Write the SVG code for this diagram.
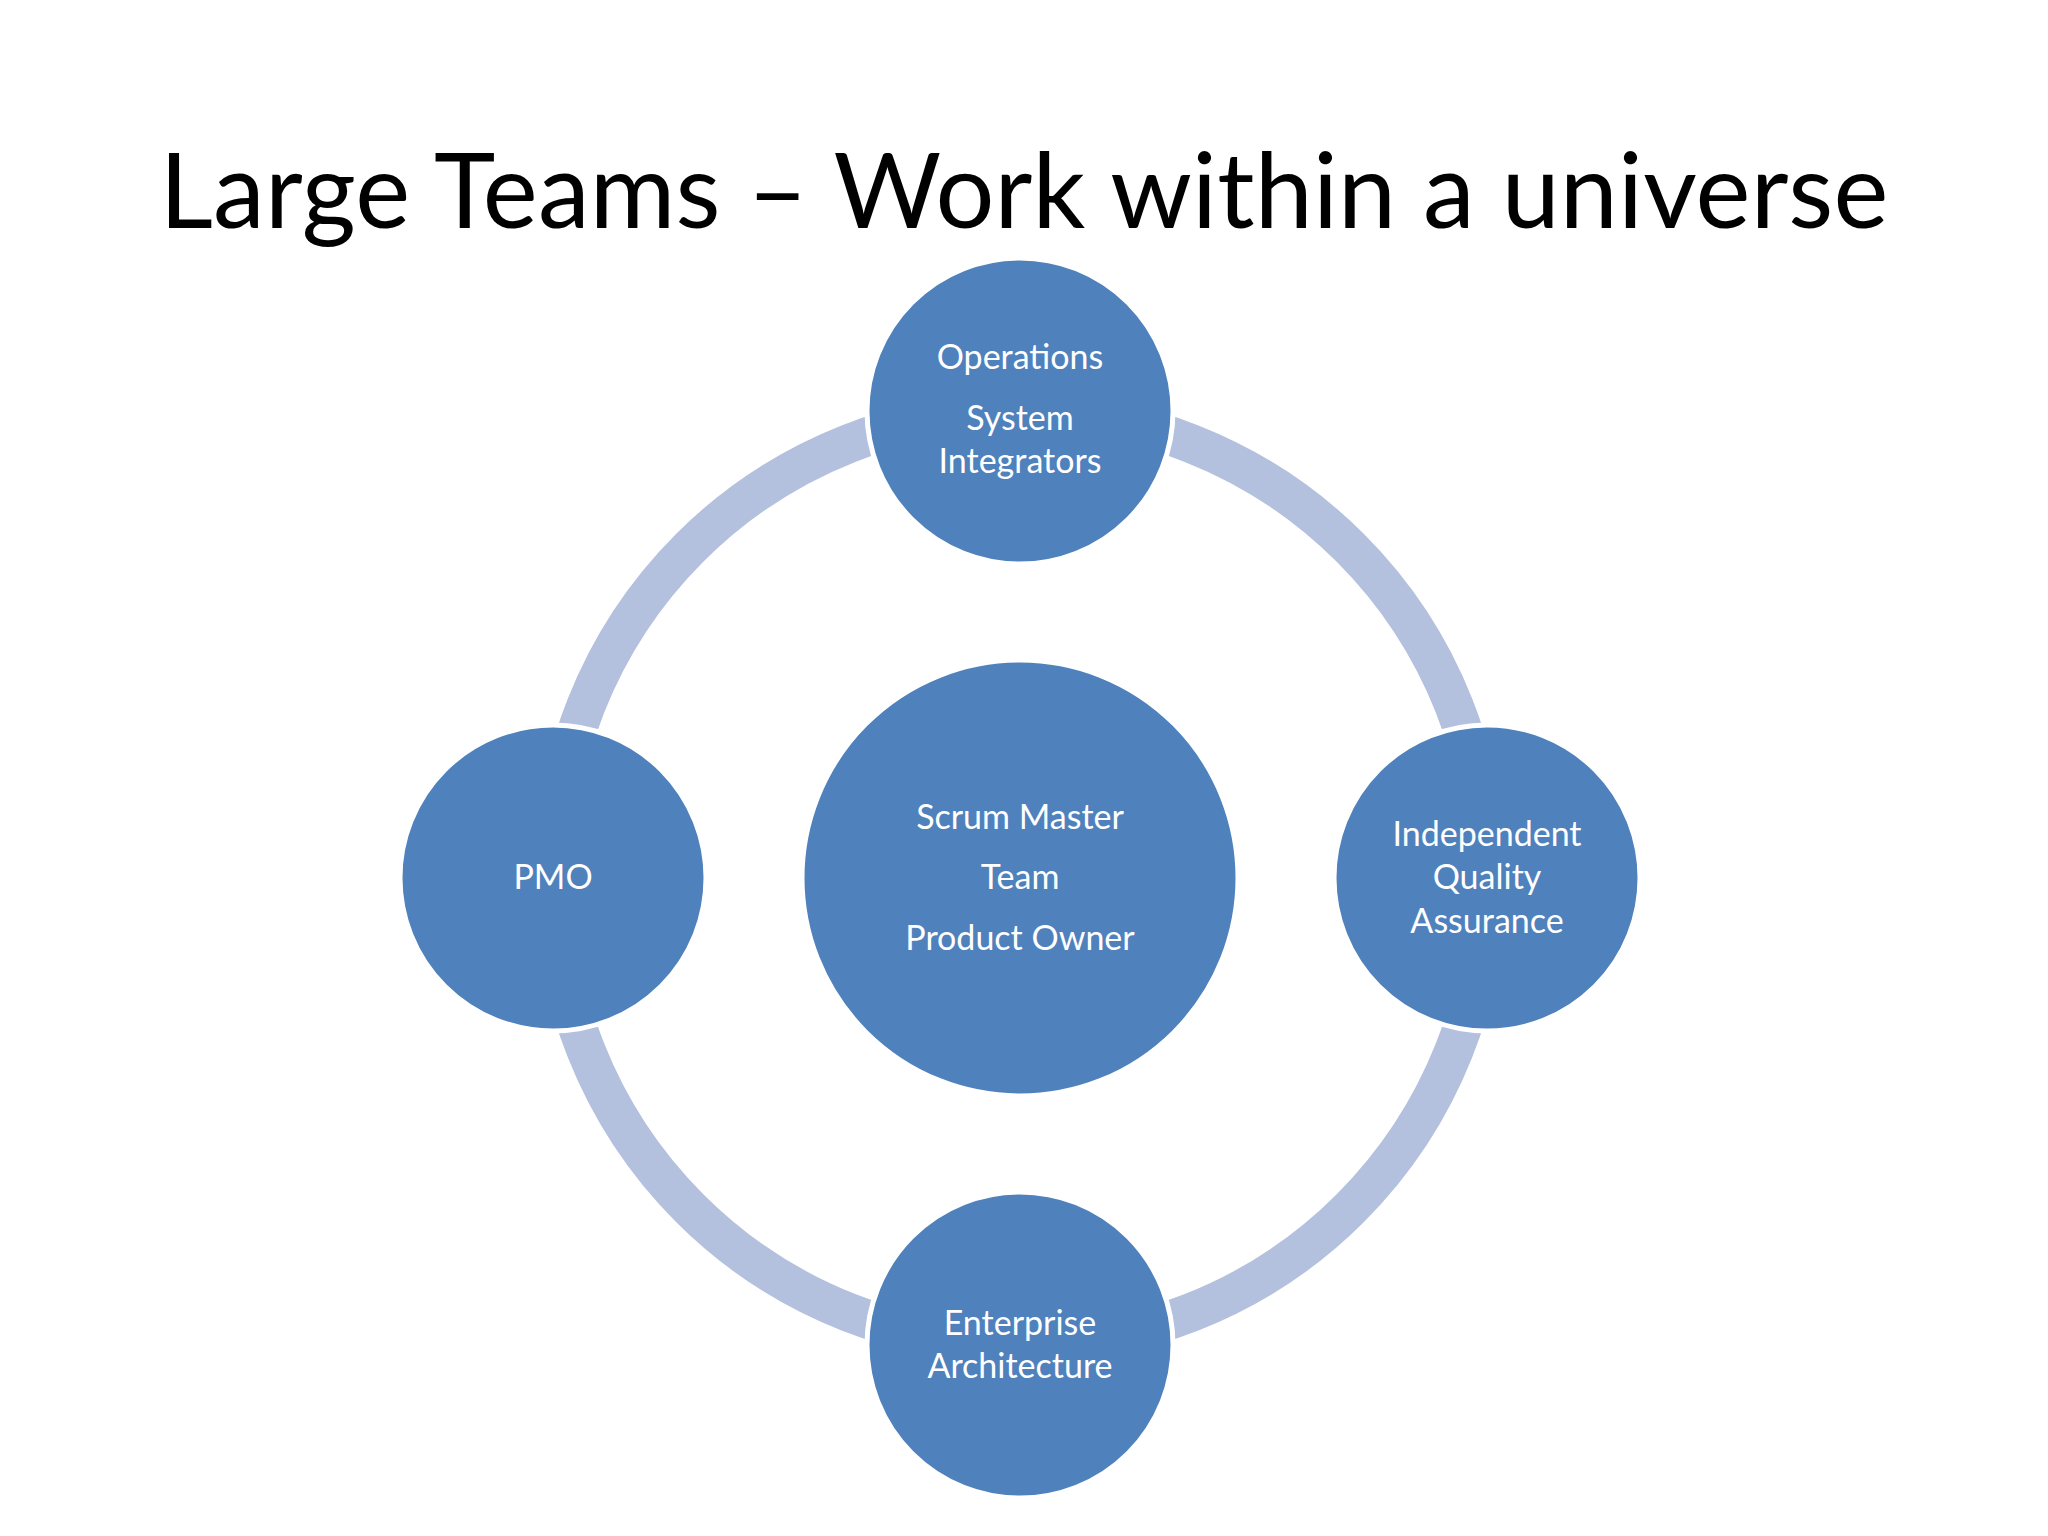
<svg xmlns="http://www.w3.org/2000/svg" width="2048" height="1536" viewBox="0 0 2048 1536">
<style>
.n{fill:#4f81bd;stroke:#fff;stroke-width:5}
.t{font-family:Lato,"Open Sans",sans-serif;font-size:34px;fill:#fff;text-anchor:middle}
</style>
<rect width="2048" height="1536" fill="#fff"/>
<text x="1024" y="228" font-family="Lato,'Open Sans',sans-serif" font-size="104" text-anchor="middle" fill="#000" textLength="1729">Large Teams – Work within a universe</text>
<g id="connectors"><circle cx="1020" cy="878" r="467" fill="none" stroke="#b4c1de" stroke-width="39"/></g>
<g id="center"><circle class="n" cx="1020" cy="878" r="218"/><text class="t" x="1020" y="829">Scrum Master</text><text class="t" x="1020" y="889">Team</text><text class="t" x="1020" y="950">Product Owner</text></g>
<g id="top"><circle class="n" cx="1020" cy="411" r="153"/><text class="t" x="1020" y="369">Operations</text><text class="t" x="1020" y="430">System</text><text class="t" x="1020" y="473">Integrators</text></g>
<g id="left"><circle class="n" cx="553" cy="878" r="153"/><text class="t" x="553" y="889">PMO</text></g>
<g id="right"><circle class="n" cx="1487" cy="878" r="153"/><text class="t" x="1487" y="846">Independent</text><text class="t" x="1487" y="889">Quality</text><text class="t" x="1487" y="933">Assurance</text></g>
<g id="bottom"><circle class="n" cx="1020" cy="1345" r="153"/><text class="t" x="1020" y="1335">Enterprise</text><text class="t" x="1020" y="1378">Architecture</text></g>
</svg>
